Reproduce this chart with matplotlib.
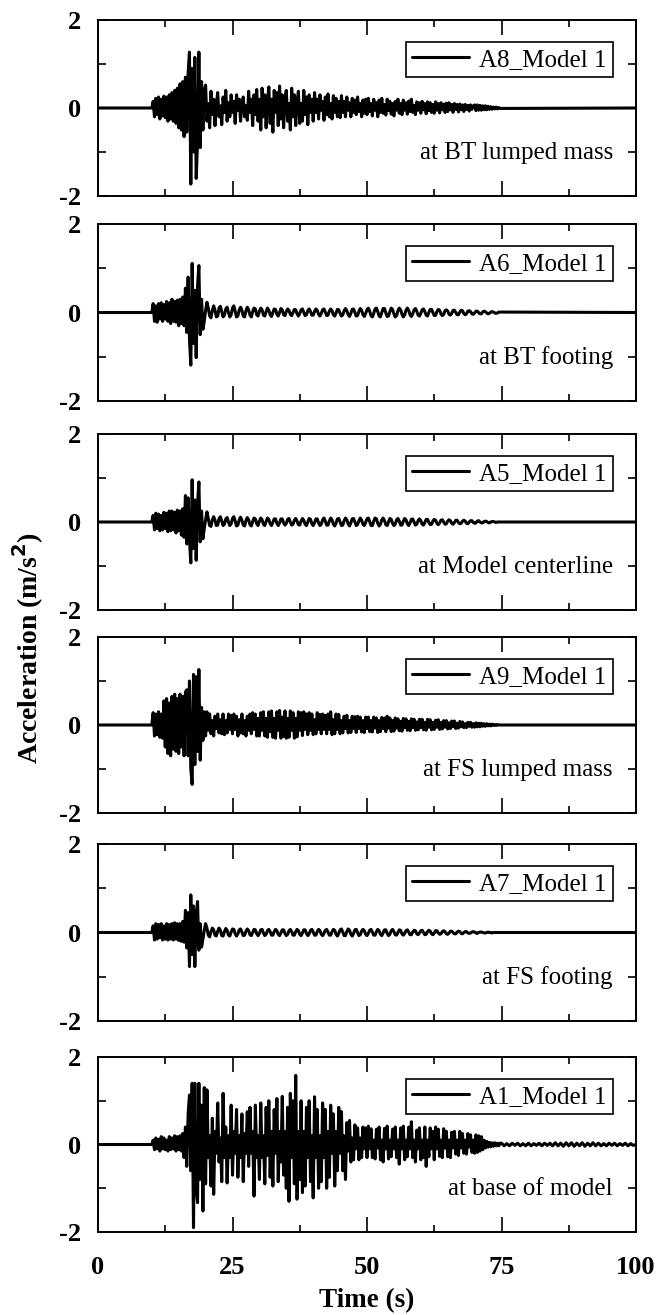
import numpy as np
import matplotlib
matplotlib.use("Agg")
import matplotlib.pyplot as plt

plt.rcParams['font.family'] = ['Liberation Serif', 'DejaVu Serif']

## Dados: aceleração (m/s2) a cada 0.25 s, de 10 s até 75 s
dt = 0.25
t_start = 10.0

a8 = [0, 0.15, -0.2, 0.22, -0.15, 0.25, -0.25, 0.2, -0.18, 0.27, -0.22, 0.25, -0.3, 0.3, -0.25, 0.35, -0.3, 0.4, -0.35, 0.45,
      -0.45, 0.55, -0.5, 0.6, -0.65, 0.7, -0.55, 0.8, 1.27, -1.73, 0.9, -1.0, 1.15, -1.6, -0.8, 1.27, -0.9, 0.6, -0.5, 0.4,
      0.52, -0.3, 0.1, -0.45, 0.38, -0.15, 0.2, -0.4, 0.1, 0.35, -0.2, 0.05, -0.38, 0.25, -0.1, 0.4, -0.3, 0.12, -0.2, 0.3,
      -0.1, 0.15, -0.35, 0.3, -0.05, 0.2, -0.3, 0.1, 0.25, -0.2, 0.05, -0.28, 0.38, -0.1, 0.2, -0.4, 0.3, -0.15, 0.42, -0.3,
      0.2, -0.5, 0.45, -0.2, 0.3, -0.45, 0.15, 0.48, -0.35, 0.2, -0.55, 0.4, -0.1, 0.35, -0.4, 0.5, -0.25, 0.3, -0.45, 0.2,
      0.4, -0.3, 0.1, -0.5, 0.45, -0.2, 0.3, -0.4, 0.15, 0.38, -0.35, 0.1, -0.3, 0.4, -0.15, 0.25, -0.38, 0.3, -0.1, 0.2,
      -0.3, 0.35, -0.1, 0.2, -0.25, 0.3, -0.05, 0.15, -0.28, 0.25, -0.15, 0.32, -0.2, 0.1, -0.25, 0.28, -0.1, 0.22, -0.2, 0.15,
      -0.22, 0.28, -0.1, 0.15, -0.2, 0.25, -0.05, 0.12, -0.2, 0.22, -0.1, 0.18, -0.15, 0.25, -0.08, 0.1, -0.2, 0.18, -0.12, 0.2,
      -0.15, 0.22, -0.08, 0.1, -0.18, 0.2, -0.05, 0.12, -0.2, 0.18, -0.1, 0.22, -0.12, 0.08, -0.16, 0.2, -0.06, 0.15, -0.14, 0.1,
      -0.18, 0.15, -0.05, 0.2, -0.12, 0.1, -0.15, 0.18, -0.05, 0.12, -0.14, 0.16, -0.08, 0.2, -0.1, 0.06, -0.15, 0.14, -0.05, 0.12,
      -0.12, 0.15, -0.04, 0.1, -0.13, 0.14, -0.06, 0.12, -0.1, 0.08, -0.12, 0.14, -0.05, 0.1, -0.11, 0.12, -0.04, 0.09, -0.1, 0.11,
      -0.08, 0.12, -0.04, 0.08, -0.1, 0.1, -0.03, 0.08, -0.09, 0.09, -0.04, 0.07, -0.08, 0.08, -0.03, 0.06, -0.07, 0.07, -0.03, 0.05,
      0.07, -0.06, 0.07, -0.05, 0.06, -0.05, 0.05, -0.04, 0.05, -0.04, 0.04, -0.03, 0.03, -0.03, 0.02, -0.02, 0.02, -0.02, 0.01, -0.01]

a6 = [0, 0.2, -0.2, 0.15, -0.22, 0.2, -0.15, 0.22, -0.2, 0.18, -0.15, 0.25, -0.2, 0.22, -0.25, 0.3, -0.2, 0.25, -0.22, 0.28,
      -0.3, 0.3, -0.25, 0.35, -0.3, 0.55, -0.45, 0.8, -0.6, -1.19, 1.11, -0.7, 0.5, -1.02, 0.6, 1.06, -0.5, 0.3, -0.38, -0.2,
      0.05, 0.23, 0.1, -0.08, -0.12, 0.05, 0.15, 0.05, -0.1, -0.08, 0.1, 0.14, 0.02, -0.1, -0.06, 0.08, 0.12, 0.0, -0.1, -0.05,
      0.1, 0.15, 0.02, -0.1, -0.08, 0.06, 0.12, 0.05, -0.08, -0.1, 0.04, 0.12, 0.06, -0.06, -0.1, 0.02, 0.1, 0.08, -0.05, -0.08,
      0.03, 0.1, 0.06, -0.06, -0.08, 0.02, 0.1, 0.05, -0.05, -0.09, 0.0, 0.08, 0.07, -0.04, -0.08, 0.0, 0.09, 0.06, -0.05, -0.07,
      0.02, 0.08, 0.05, -0.04, -0.07, 0.0, 0.07, 0.06, -0.03, -0.08, -0.02, 0.06, 0.08, 0.0, -0.07, -0.05, 0.04, 0.08, 0.02, -0.06,
      -0.06, 0.02, 0.08, 0.05, -0.04, -0.08, -0.02, 0.06, 0.08, 0.01, -0.07, -0.06, 0.03, 0.08, 0.04, -0.05, -0.08, -0.01, 0.07, 0.06,
      -0.02, -0.08, -0.05, 0.04, 0.09, 0.04, -0.05, -0.09, -0.02, 0.07, 0.08, 0.0, -0.08, -0.07, 0.03, 0.09, 0.05, -0.05, -0.09, -0.02,
      0.06, 0.1, 0.03, -0.07, -0.1, -0.02, 0.08, 0.1, 0.02, -0.08, -0.1, 0.0, 0.09, 0.09, -0.01, -0.09, -0.08, 0.02, 0.1, 0.07,
      -0.03, -0.1, -0.07, 0.04, 0.1, 0.06, -0.04, -0.1, -0.05, 0.05, 0.1, 0.05, -0.05, -0.09, -0.03, 0.06, 0.09, 0.03, -0.06, -0.08,
      -0.02, 0.06, 0.08, 0.02, -0.06, -0.08, 0.0, 0.07, 0.07, 0.0, -0.07, -0.06, 0.02, 0.07, 0.05, -0.03, -0.07, -0.04, 0.04, 0.06,
      0.03, -0.04, -0.06, -0.02, 0.05, 0.05, 0.0, -0.05, -0.05, 0.01, 0.05, 0.04, -0.02, -0.05, -0.03, 0.03, 0.04, 0.02, -0.03, -0.04,
      -0.01, 0.03, 0.03, 0.0, -0.03, -0.03, 0.01, 0.03, 0.02, -0.01, -0.03, -0.02, 0.01, 0.02, 0.01, -0.01, -0.02, -0.01, 0.01, 0.01]

a5 = [0, 0.15, -0.18, 0.2, -0.15, 0.18, -0.2, 0.15, -0.18, 0.22, -0.15, 0.2, -0.22, 0.25, -0.2, 0.25, -0.18, 0.22, -0.25, 0.27,
      -0.2, 0.25, -0.3, 0.3, -0.35, 0.6, -0.5, 0.55, -0.4, -0.93, 0.96, -0.6, 0.5, -0.87, 0.4, 0.91, -0.45, 0.25, -0.38, -0.15,
      0.05, 0.23, 0.08, -0.08, -0.1, 0.05, 0.12, 0.04, -0.08, -0.07, 0.08, 0.12, 0.02, -0.08, -0.05, 0.07, 0.1, 0.0, -0.08, -0.04,
      0.08, 0.12, 0.02, -0.09, -0.07, 0.05, 0.11, 0.04, -0.07, -0.09, 0.03, 0.1, 0.05, -0.06, -0.09, 0.01, 0.09, 0.07, -0.04, -0.08,
      0.02, 0.09, 0.05, -0.05, -0.08, 0.01, 0.09, 0.06, -0.04, -0.08, -0.01, 0.07, 0.07, -0.03, -0.08, -0.02, 0.07, 0.07, -0.02, -0.07,
      -0.03, 0.06, 0.08, 0.0, -0.07, -0.05, 0.04, 0.08, 0.02, -0.06, -0.07, 0.02, 0.08, 0.04, -0.05, -0.08, 0.0, 0.08, 0.06, -0.04,
      -0.08, -0.02, 0.07, 0.07, -0.02, -0.08, -0.05, 0.05, 0.09, 0.02, -0.07, -0.07, 0.02, 0.09, 0.05, -0.05, -0.09, -0.02, 0.07, 0.08,
      0.0, -0.08, -0.07, 0.03, 0.09, 0.05, -0.05, -0.09, -0.02, 0.07, 0.08, 0.0, -0.08, -0.06, 0.03, 0.09, 0.04, -0.05, -0.08, -0.01,
      0.07, 0.09, 0.01, -0.08, -0.08, 0.02, 0.09, 0.07, -0.03, -0.09, -0.05, 0.05, 0.09, 0.03, -0.06, -0.08, 0.0, 0.08, 0.06, -0.03,
      -0.08, -0.05, 0.05, 0.08, 0.02, -0.07, -0.07, 0.02, 0.08, 0.05, -0.04, -0.08, -0.02, 0.06, 0.07, 0.0, -0.07, -0.05, 0.03, 0.07,
      0.03, -0.05, -0.07, -0.01, 0.06, 0.06, -0.01, -0.06, -0.05, 0.02, 0.06, 0.04, -0.03, -0.06, -0.02, 0.04, 0.05, 0.0, -0.05, -0.04,
      0.02, 0.05, 0.03, -0.03, -0.05, -0.01, 0.04, 0.04, -0.01, -0.04, -0.03, 0.02, 0.04, 0.02, -0.03, -0.04, 0.0, 0.03, 0.03, -0.01,
      -0.03, -0.02, 0.02, 0.03, 0.0, -0.02, -0.02, 0.01, 0.02, 0.01, -0.01, -0.02, 0.0, 0.01, 0.01, 0.0, -0.01, 0.0, 0.0, 0.0]

a9 = [0, 0.28, -0.25, 0.25, -0.22, 0.3, -0.28, 0.25, -0.3, 0.55, -0.5, 0.6, -0.65, 0.5, -0.7, 0.65, -0.55, 0.7, -0.6, 0.6,
      -0.65, 0.7, -0.5, 0.65, -0.7, 0.75, 0.8, -0.7, 1.0, -1.0, -1.35, 1.15, -0.9, 1.1, -0.6, 1.26, -0.8, 0.4, -0.35, 0.3,
      -0.25, 0.3, -0.12, 0.25, -0.2, 0.1, -0.25, 0.2, -0.08, 0.25, -0.18, 0.12, -0.2, 0.25, -0.22, 0.1, -0.18, 0.25, -0.1, 0.22,
      -0.2, 0.25, -0.1, 0.2, -0.25, 0.12, -0.18, 0.25, -0.2, 0.1, -0.25, 0.2, -0.12, 0.25, -0.2, 0.28, -0.1, 0.25, -0.25, 0.15,
      -0.25, 0.28, -0.12, 0.3, -0.25, 0.15, -0.28, 0.3, -0.15, 0.32, -0.28, 0.15, -0.3, 0.3, -0.12, 0.33, -0.3, 0.18, -0.26, 0.32,
      -0.3, 0.15, -0.28, 0.32, -0.12, 0.28, -0.3, 0.15, -0.27, 0.3, -0.12, 0.28, -0.24, 0.3, -0.1, 0.25, -0.22, 0.28, -0.12, 0.25,
      -0.22, 0.12, -0.2, 0.28, -0.1, 0.24, -0.2, 0.25, -0.1, 0.22, -0.2, 0.25, -0.1, 0.3, -0.22, 0.12, -0.2, 0.25, -0.1, 0.24,
      -0.2, 0.1, -0.18, 0.2, -0.08, 0.22, -0.18, 0.1, -0.17, 0.2, -0.08, 0.19, -0.17, 0.2, -0.08, 0.18, -0.16, 0.1, -0.17, 0.18,
      -0.08, 0.18, -0.15, 0.1, -0.16, 0.18, -0.07, 0.16, -0.17, 0.1, -0.15, 0.17, -0.08, 0.16, -0.15, 0.2, -0.07, 0.16, -0.15, 0.1,
      -0.14, 0.16, -0.07, 0.14, -0.13, 0.08, -0.14, 0.15, -0.06, 0.14, -0.12, 0.08, -0.13, 0.14, -0.06, 0.13, -0.12, 0.07, -0.11, 0.13,
      -0.06, 0.13, -0.11, 0.06, -0.12, 0.13, -0.05, 0.12, -0.11, 0.06, -0.1, 0.11, -0.05, 0.12, -0.1, 0.06, -0.09, 0.1, -0.05, 0.1,
      -0.09, 0.05, -0.08, 0.09, -0.04, 0.09, -0.08, 0.04, -0.07, 0.08, -0.04, 0.07, -0.06, 0.03, -0.06, 0.06, -0.03, 0.06, -0.05, 0.03,
      -0.05, 0.05, -0.04, 0.04, -0.04, 0.04, -0.03, 0.03, -0.03, 0.03, -0.02, 0.02, -0.02, 0.02, -0.01, 0.01, -0.01, 0.01, 0, 0]

a7 = [0, 0.15, -0.17, 0.2, -0.15, 0.18, -0.12, 0.2, -0.17, 0.15, -0.15, 0.2, -0.17, 0.18, -0.15, 0.2, -0.17, 0.22, -0.15, 0.2,
      -0.18, 0.2, -0.2, 0.25, -0.22, 0.5, -0.35, 0.45, -0.77, 0.85, -0.5, 0.6, -0.77, 0.4, 0.7, -0.4, 0.2, -0.33, -0.15, 0.05,
      0.2, 0.1, -0.06, -0.1, 0.02, 0.1, 0.06, -0.06, -0.08, 0.03, 0.1, 0.05, -0.07, -0.08, 0.02, 0.09, 0.05, -0.06, -0.08, 0.01,
      0.08, 0.07, -0.03, -0.08, -0.03, 0.06, 0.08, 0.01, -0.07, -0.06, 0.03, 0.08, 0.04, -0.05, -0.07, 0.0, 0.07, 0.06, -0.03, -0.07,
      -0.02, 0.06, 0.07, -0.01, -0.07, -0.04, 0.04, 0.07, 0.02, -0.06, -0.06, 0.02, 0.07, 0.04, -0.04, -0.07, -0.01, 0.06, 0.06, -0.02,
      -0.07, -0.04, 0.04, 0.07, 0.02, -0.06, -0.06, 0.02, 0.07, 0.04, -0.04, -0.07, -0.01, 0.06, 0.06, -0.02, -0.07, -0.03, 0.05, 0.07,
      0.01, -0.06, -0.06, 0.02, 0.07, 0.04, -0.04, -0.07, -0.02, 0.05, 0.07, 0.01, -0.06, -0.06, 0.02, 0.07, 0.05, -0.04, -0.08, -0.02,
      0.06, 0.08, 0.01, -0.07, -0.07, 0.02, 0.08, 0.05, -0.04, -0.08, -0.02, 0.06, 0.07, 0.0, -0.07, -0.05, 0.03, 0.07, 0.04, -0.04,
      -0.07, -0.02, 0.05, 0.07, 0.01, -0.06, -0.06, 0.02, 0.07, 0.04, -0.04, -0.07, -0.01, 0.06, 0.06, -0.02, -0.07, -0.04, 0.04, 0.07,
      0.02, -0.05, -0.06, 0.0, 0.06, 0.05, -0.03, -0.06, -0.02, 0.04, 0.06, 0.01, -0.05, -0.05, 0.01, 0.05, 0.04, -0.03, -0.05, -0.01,
      0.04, 0.05, 0.0, -0.05, -0.04, 0.02, 0.05, 0.03, -0.03, -0.05, -0.01, 0.04, 0.04, -0.01, -0.04, -0.03, 0.02, 0.04, 0.02, -0.03,
      -0.04, -0.01, 0.03, 0.03, 0.0, -0.03, -0.03, 0.01, 0.03, 0.02, -0.02, -0.03, 0.0, 0.02, 0.02, -0.01, -0.02, -0.01, 0.01, 0.02,
      0.01, -0.01, -0.02, 0.0, 0.01, 0.01, 0.0, -0.01, -0.01, 0.0, 0.01, 0.0, 0.0, -0.01, 0.0, 0.0, 0.0, 0.0, 0.0, 0.0]

a1 = [0, 0.1, -0.12, 0.15, -0.1, 0.12, -0.15, 0.18, -0.1, 0.15, -0.12, 0.1, -0.15, 0.18, -0.12, 0.15, -0.1, 0.2, -0.15, 0.18,
      -0.12, 0.2, -0.15, 0.25, -0.3, 0.4, -0.5, 0.7, 1.13, -0.6, 1.4, -1.9, 1.4, -1.0, -1.33, 1.4, -0.8, 0.9, -1.52, 1.3,
      -0.9, 1.25, -0.3, 0.2, -0.95, 0.6, -1.14, 0.3, -0.2, 0.95, -0.4, 0.15, -0.85, 1.17, -0.3, 0.4, -0.88, 0.2, -0.3, 0.9,
      -0.7, 0.3, -0.2, 0.8, -0.75, 0.2, -0.3, 0.7, -0.85, 0.25, -0.2, 0.75, -0.5, 0.85, -0.2, 0.3, -1.18, 0.9, -0.3, 0.2,
      -0.8, 0.95, -0.3, 0.2, -0.9, 0.85, -0.25, 1.0, -0.75, 0.3, -0.95, 0.8, -0.2, 1.05, -0.85, 0.3, -0.4, 1.1, -0.7, 0.3,
      -1.0, 0.85, -1.3, 1.17, -0.3, 1.0, -0.9, 1.58, -1.25, 0.3, -0.8, 1.0, -1.1, 0.3, -0.95, 0.85, -0.3, 1.0, -0.85, 0.2,
      -1.22, 1.09, -0.3, 0.8, -1.0, 0.2, -0.85, 0.95, -0.3, 0.8, -1.0, 0.3, -0.75, 0.9, -0.2, 0.7, -0.95, 0.3, -0.6, 0.85,
      -0.2, 0.75, -0.6, 0.2, -0.8, 0.5, -0.15, 0.55, -0.4, 0.15, -0.35, 0.45, -0.1, 0.38, -0.35, 0.15, -0.3, 0.4, -0.1, 0.38,
      -0.3, 0.42, -0.1, 0.36, -0.3, 0.1, -0.33, 0.35, -0.08, 0.4, -0.35, 0.1, -0.4, 0.37, -0.1, 0.42, -0.33, 0.1, -0.28, 0.35,
      -0.1, 0.4, -0.3, 0.1, -0.45, 0.38, -0.1, 0.42, -0.35, 0.1, -0.28, 0.4, -0.1, 0.52, -0.3, 0.1, -0.4, 0.33, -0.1, 0.38,
      -0.35, 0.1, -0.3, 0.4, -0.5, 0.1, -0.28, 0.38, -0.1, 0.3, -0.35, 0.4, -0.1, 0.35, -0.27, 0.1, -0.3, 0.36, -0.08, 0.3,
      -0.28, 0.1, -0.3, 0.28, -0.08, 0.3, -0.22, 0.1, -0.25, 0.3, -0.08, 0.25, -0.2, 0.1, -0.22, 0.25, -0.06, 0.22, -0.18, 0.1,
      -0.2, 0.22, -0.18, 0.2, -0.15, 0.18, -0.12, 0.1, -0.08, 0.07, -0.06, 0.05, -0.05, 0.04, -0.04, 0.04, -0.03, 0.03, -0.03, 0.03]

# ruído residual da base depois de 75 s (a cada 0.5 s)
a1_tail = [0.03, -0.03, 0.02, -0.03, 0.03, -0.02, 0.03, -0.03, 0.02, -0.03,
           0.03, -0.03, 0.02, -0.02, 0.03, -0.03, 0.03, -0.02, 0.03, -0.03,
           0.04, -0.03, 0.03, -0.04, 0.04, -0.03, 0.04, -0.04, 0.03, -0.03,
           0.04, -0.04, 0.03, -0.03, 0.04, -0.03, 0.03, -0.03, 0.02, -0.03,
           0.03, -0.02, 0.03, -0.03, 0.02, -0.02, 0.03, -0.03, 0.02, -0.02]

names = ["A8_Model 1", "A6_Model 1", "A5_Model 1", "A9_Model 1", "A7_Model 1", "A1_Model 1"]
places = ["at BT lumped mass", "at BT footing", "at Model centerline",
          "at FS lumped mass", "at FS footing", "at base of model"]
series = [a8, a6, a5, a9, a7, a1]
tails = [None, None, None, None, None, a1_tail]

## Layout (pixels da figura original)
W, H = 659, 1315
tops = [20, 224, 434, 637, 844, 1057]
bottoms = [196, 401, 610, 813, 1021, 1232]
left, right = 98, 636

fig = plt.figure(figsize=(W / 100, H / 100), dpi=100)

for i in range(6):
    ax = fig.add_axes([left / W, 1 - bottoms[i] / H, (right - left) / W, (bottoms[i] - tops[i]) / H])

    vals = np.array(series[i])
    t = t_start + dt * np.arange(len(vals))
    tt = [np.array([0.0]), t]
    vv = [np.array([0.0]), vals]
    if tails[i] is not None:
        tail = np.array(tails[i])
        tt.append(t[-1] + dt + 0.5 * np.arange(len(tail)))
        vv.append(tail)
    tt.append(np.array([100.0]))
    vv.append(np.array([0.0]))
    tt = np.concatenate(tt)
    vv = np.concatenate(vv)

    ax.plot(tt, vv, color='black', lw=2.2, label=names[i],
            solid_joinstyle='round', solid_capstyle='round')

    ax.set_xlim(0, 100)
    ax.set_ylim(-2, 2)
    ax.set_xticks([0, 25, 50, 75, 100])
    ax.set_xticks([12.5, 37.5, 62.5, 87.5], minor=True)
    ax.set_yticks([-2, 0, 2])
    ax.set_yticks([-1, 1], minor=True)
    ax.set_yticklabels(['-2', '0', '2'])
    ax.tick_params(axis='both', which='both', direction='in', top=True, right=True,
                   width=1.2, labelsize=19)
    ax.tick_params(axis='x', which='major', length=10.5, pad=17)
    ax.tick_params(axis='x', which='minor', length=5)
    ax.tick_params(axis='y', which='major', length=6, pad=12)
    ax.tick_params(axis='y', which='minor', length=6)
    for lab in ax.get_xticklabels() + ax.get_yticklabels():
        lab.set_fontweight('bold')
    if i < 5:
        ax.tick_params(labelbottom=False)
    for s in ax.spines.values():
        s.set_linewidth(1.4)

    leg = ax.legend(loc='upper right', bbox_to_anchor=(1 - 23 / 538, 1 - 22 / 176),
                    borderaxespad=0, fancybox=False, framealpha=1, edgecolor='black',
                    fontsize=18, handlelength=2.3, handletextpad=0.4, borderpad=0.25)
    leg.get_frame().set_linewidth(1.2)

    ax.text(0.957, 0.245, places[i], transform=ax.transAxes, ha='right', va='center', fontsize=18)

fig.text(28 / W, 1 - 648 / H, 'Acceleration (m/s$^\\mathbf{2}$)', rotation=90, ha='center', va='center',
         fontsize=20, fontweight='bold')
fig.text((left + right) / 2 / W, 1 - 1301 / H, 'Time (s)', ha='center', va='center',
         fontsize=19.5, fontweight='bold')

fig.savefig('out.png', dpi=100)
